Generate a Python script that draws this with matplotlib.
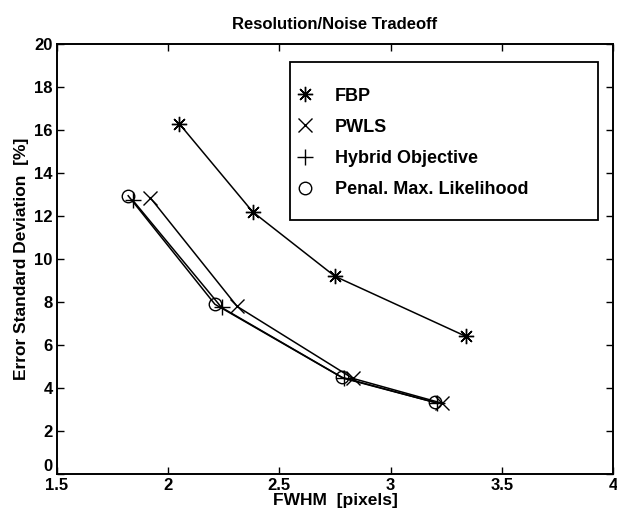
import matplotlib
matplotlib.use("Agg")
import matplotlib.pyplot as plt
from matplotlib.lines import Line2D
from matplotlib.patches import Rectangle

plt.rcParams['font.family'] = ['Liberation Sans', 'DejaVu Sans']
plt.rcParams['font.weight'] = 'bold'

# Data
fbp_x = [2.05, 2.38, 2.75, 3.34]
fbp_y = [16.3, 12.2, 9.2, 6.4]
pwls_x = [1.92, 2.31, 2.83, 3.23]
pwls_y = [12.85, 7.8, 4.45, 3.3]
hyb_x = [1.84, 2.24, 2.79, 3.21]
hyb_y = [12.75, 7.75, 4.45, 3.3]
pml_x = [1.82, 2.21, 2.78, 3.20]
pml_y = [12.95, 7.9, 4.5, 3.33]

labels = ['FBP', 'PWLS', 'Hybrid Objective', 'Penal. Max. Likelihood']
xticks = [1.5, 2, 2.5, 3, 3.5, 4]
xticklabels = ['1.5', '2', '2.5', '3', '3.5', '4']
yticks = list(range(0, 21, 2))

fig = plt.figure(figsize=(6.17, 5.08), dpi=100)
ax = fig.add_axes([0.0924, 0.0669, 0.901, 0.846])

star = (8, 2, 0)
kw = dict(color='black', lw=1.1, mfc='none', mec='black', mew=1.0)
ax.plot(fbp_x, fbp_y, marker=star, ms=11, **kw)
ax.plot(pwls_x, pwls_y, marker='x', ms=10, **kw)
ax.plot(hyb_x, hyb_y, marker='+', ms=11, **kw)
ax.plot(pml_x, pml_y, marker='o', ms=9, **kw)

ax.set_xlim(1.5, 4)
ax.set_ylim(0, 20)
ax.set_xticks(xticks)
ax.set_xticklabels(xticklabels)
ax.set_yticks(yticks)
ax.tick_params(direction='in', top=True, right=True, length=5, width=1.0,
               labelsize=12, pad=3)
for lab in ax.get_xticklabels() + ax.get_yticklabels():
    lab.set_fontweight('bold')
ax.yaxis.get_major_ticks()[0].label1.set_va('bottom')
for s in ax.spines.values():
    s.set_linewidth(1.4)

ax.set_title('Resolution/Noise Tradeoff', fontsize=12, fontweight='bold', pad=11)
ax.set_xlabel('FWHM  [pixels]', fontsize=12.5, fontweight='bold', labelpad=0)
ax.set_ylabel('Error Standard Deviation  [%]', fontsize=12.5, fontweight='bold', labelpad=4)

# legend frame
ax.add_patch(Rectangle((0.42, 0.59), 0.553, 0.368, transform=ax.transAxes,
                       facecolor='white', edgecolor='black', lw=1.3, zorder=4))

handles = [
    Line2D([], [], ls='none', marker=star, ms=11, mec='black', mew=1.0),
    Line2D([], [], ls='none', marker='x', ms=10, mec='black', mew=1.0),
    Line2D([], [], ls='none', marker='+', ms=11, mec='black', mew=1.0),
    Line2D([], [], ls='none', marker='o', ms=9, mec='black', mfc='none', mew=1.0),
]
leg = ax.legend(handles, labels, loc='upper left',
                bbox_to_anchor=(0.43, 0.899),
                frameon=False, fontsize=13,
                handlelength=1.0, handletextpad=1.17, labelspacing=0.78,
                borderpad=0.0, borderaxespad=0)
leg.set_zorder(5)
for t in leg.get_texts():
    t.set_fontweight('bold')

fig.savefig('out.png', dpi=100)
